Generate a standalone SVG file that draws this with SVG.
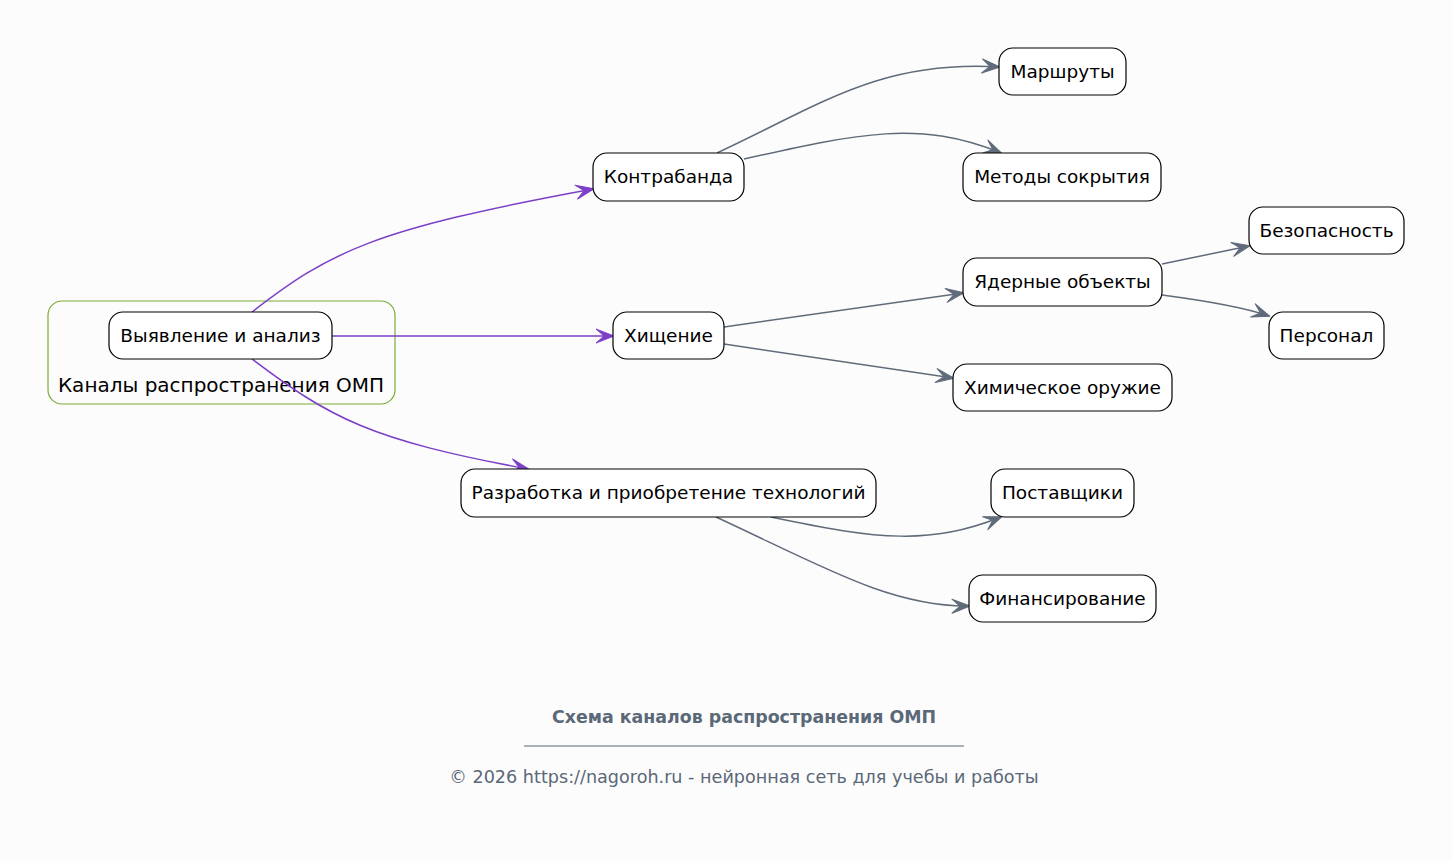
<svg xmlns="http://www.w3.org/2000/svg" width="1452" height="861" viewBox="0 0 1452 861">
<style>
.node rect{fill:#ffffff;stroke:#000000;stroke-width:1.2}
.node text,.cl text{font-family:"DejaVu Sans",sans-serif;font-size:18.5px;fill:#000;text-anchor:middle;dominant-baseline:central}
.cl text{font-size:20px}
.e{fill:none;stroke-width:1.5}
.p{stroke:#7b3fc8}
.g{stroke:#5f6b7a}
.foot{font-family:"DejaVu Sans",sans-serif;fill:#5a6878;text-anchor:middle}
</style>
<defs>
<marker id="ap" viewBox="-1 -1 20 16" refX="17" refY="7" markerWidth="20" markerHeight="16" markerUnits="userSpaceOnUse" orient="auto">
<path d="M0,0 L18,7 L0,14 L8,7 z" fill="#7b3fc8" stroke="#7b3fc8" stroke-width="1" stroke-linejoin="round"/>
</marker>
<marker id="ag" viewBox="-1 -1 20 16" refX="17" refY="7" markerWidth="20" markerHeight="16" markerUnits="userSpaceOnUse" orient="auto">
<path d="M0,0 L18,7 L0,14 L8,7 z" fill="#5f6b7a" stroke="#5f6b7a" stroke-width="1" stroke-linejoin="round"/>
</marker>
</defs>
<rect width="1452" height="861" fill="#fdfcfc"/>
<g id="cluster" class="cl">
<rect x="48" y="301" width="347" height="103" rx="14" fill="none" stroke="#7cab35" stroke-width="1.2"/>
<text x="221" y="385">Каналы распространения ОМП</text>
</g>
<g id="edges">
<path class="e p" d="M252,312 C330,252 370,230 593,189" marker-end="url(#ap)"/>
<path class="e p" d="M332,336 L613,336" marker-end="url(#ap)"/>
<path class="e p" d="M252,359 C330,418 370,440 528,469" marker-end="url(#ap)"/>
<path class="e g" d="M717,153 C820,105 880,60 999,67" marker-end="url(#ag)"/>
<path class="e g" d="M744,159 C860,133 920,120 1001,153" marker-end="url(#ag)"/>
<path class="e g" d="M724,327 L963,293" marker-end="url(#ag)"/>
<path class="e g" d="M724,344 L953,378" marker-end="url(#ag)"/>
<path class="e g" d="M1162,264 L1249,246" marker-end="url(#ag)"/>
<path class="e g" d="M1162,295 C1200,300 1240,306 1269,316" marker-end="url(#ag)"/>
<path class="e g" d="M771,517 C880,540 930,545 1001,517" marker-end="url(#ag)"/>
<path class="e g" d="M716,517 C820,565 890,607 969,606" marker-end="url(#ag)"/>
</g>
<g id="n_detect" class="node"><rect x="109" y="312" width="223" height="47" rx="14"/><text x="220.5" y="335">Выявление и анализ</text></g>
<g id="n_smug" class="node"><rect x="593" y="153" width="151" height="48" rx="14"/><text x="668.5" y="176">Контрабанда</text></g>
<g id="n_theft" class="node"><rect x="613" y="312" width="111" height="47" rx="14"/><text x="668.5" y="335">Хищение</text></g>
<g id="n_dev" class="node"><rect x="461" y="469" width="415" height="48" rx="14"/><text x="668.5" y="492">Разработка и приобретение технологий</text></g>
<g id="n_routes" class="node"><rect x="999" y="48" width="127" height="47" rx="14"/><text x="1062.5" y="71">Маршруты</text></g>
<g id="n_hide" class="node"><rect x="963" y="153" width="198" height="48" rx="14"/><text x="1062" y="176">Методы сокрытия</text></g>
<g id="n_nuc" class="node"><rect x="963" y="258" width="199" height="48" rx="14"/><text x="1062.5" y="281">Ядерные объекты</text></g>
<g id="n_chem" class="node"><rect x="953" y="364" width="219" height="47" rx="14"/><text x="1062.5" y="387">Химическое оружие</text></g>
<g id="n_supp" class="node"><rect x="991" y="469" width="143" height="48" rx="14"/><text x="1062.5" y="492">Поставщики</text></g>
<g id="n_fin" class="node"><rect x="969" y="575" width="187" height="47" rx="14"/><text x="1062.5" y="598">Финансирование</text></g>
<g id="n_sec" class="node"><rect x="1249" y="207" width="155" height="47" rx="14"/><text x="1326.5" y="230">Безопасность</text></g>
<g id="n_pers" class="node"><rect x="1269" y="312" width="115" height="47" rx="14"/><text x="1326.5" y="335">Персонал</text></g>
<g id="footer">
<text class="foot" x="744" y="723" font-size="17.4" font-weight="bold">Схема каналов распространения ОМП</text>
<line x1="524" y1="746" x2="964" y2="746" stroke="#5a6878" stroke-width="1"/>
<text class="foot" x="744" y="783" font-size="17.6">© 2026 https://nagoroh.ru - нейронная сеть для учебы и работы</text>
</g>
</svg>
